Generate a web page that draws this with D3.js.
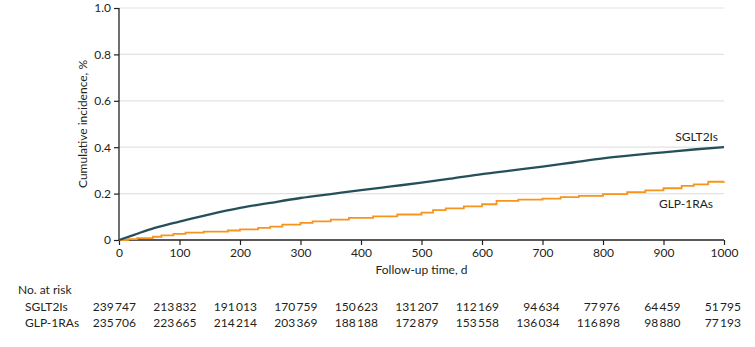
<!DOCTYPE html>
<html>
<head>
<meta charset="utf-8">
<script src="https://cdn.jsdelivr.net/npm/d3@7"></script>
<style>
  body { margin: 0; background: #fff; }
  svg text { font-family: Lato, "Open Sans", sans-serif; fill: #231f20; }
</style>
</head>
<body>
<script>
// follow-up days and cumulative incidence (%)
var sgltDays = [0, 25, 50, 75, 100, 150, 200, 250, 300, 350, 400, 450, 500, 550, 600, 650, 700, 750, 800, 850, 900, 950, 1000];
var sgltInc  = [0, 0.022, 0.045, 0.063, 0.079, 0.11, 0.138, 0.16, 0.181, 0.198, 0.215, 0.231, 0.247, 0.265, 0.284, 0.300, 0.316, 0.334, 0.352, 0.366, 0.378, 0.39, 0.40];

var glpDays = [0, 15, 30, 56, 70, 90, 110, 140, 180, 200, 230, 250, 270, 300, 320, 350, 380, 420, 460, 500, 519, 540, 570, 600, 624, 660, 700, 730, 760, 800, 840, 870, 900, 930, 950, 974, 1000];
var glpInc  = [0, 0.004, 0.008, 0.014, 0.02, 0.026, 0.032, 0.036, 0.041, 0.046, 0.052, 0.058, 0.066, 0.074, 0.080, 0.088, 0.095, 0.102, 0.110, 0.118, 0.129, 0.136, 0.145, 0.154, 0.169, 0.174, 0.178, 0.185, 0.19, 0.198, 0.206, 0.214, 0.223, 0.233, 0.24, 0.251, 0.252];

var xTicks = [0, 100, 200, 300, 400, 500, 600, 700, 800, 900, 1000];
var yTicks = [0, 0.2, 0.4, 0.6, 0.8, 1.0];

var sgltRisk = [239747, 213832, 191013, 170759, 150623, 131207, 112169, 94634, 77976, 64459, 51795];
var glpRisk  = [235706, 223665, 214214, 203369, 188188, 172879, 153558, 136034, 116898, 98880, 77193];

var svg = d3.select("body")
  .append("svg")
  .attr("width", 755)
  .attr("height", 347);

var x = d3.scaleLinear().domain([0, 1000]).range([119, 724]);
var y = d3.scaleLinear().domain([0, 1]).range([240, 8]);

// gridlines
svg.append("g")
  .selectAll("line")
  .data(yTicks.filter(function(d){ return d > 0; }))
  .enter().append("line")
  .attr("x1", x(0)).attr("x2", x(1000))
  .attr("y1", function(d){ return y(d); })
  .attr("y2", function(d){ return y(d); })
  .style("stroke", "#e2e2e2")
  .style("stroke-width", 1.2);

var fmtY = function(d){ return d === 0 ? "0" : d3.format(".1f")(d); };

var yAxis = svg.append("g")
  .attr("transform", "translate(" + x(0) + ",0)")
  .call(d3.axisLeft(y).tickValues(yTicks).tickFormat(fmtY).tickSize(5).tickPadding(3));

var xAxis = svg.append("g")
  .attr("transform", "translate(0," + y(0) + ")")
  .call(d3.axisBottom(x).tickValues(xTicks).tickFormat(d3.format("d")).tickSize(5).tickPadding(3));

[yAxis, xAxis].forEach(function(a){
  a.select(".domain").style("stroke", "#231f20").style("stroke-width", 1.3);
  a.selectAll(".tick line").style("stroke", "#231f20").style("stroke-width", 1.2);
  a.selectAll("text").style("font-size", "12px").style("fill", "#231f20");
});
// axis lines without end caps
yAxis.select(".domain").attr("d", "M0," + y(1) + "V" + y(0));
xAxis.select(".domain").attr("d", "M" + x(0) + ",0H" + x(1000));

// curves
var line = d3.line()
  .x(function(d){ return x(d[0]); })
  .y(function(d){ return y(d[1]); });

svg.append("path")
  .datum(d3.zip(glpDays, glpInc))
  .attr("d", line.curve(d3.curveStepAfter))
  .style("fill", "none")
  .style("stroke", "#f7941d")
  .style("stroke-width", 1.8);

svg.append("path")
  .datum(d3.zip(sgltDays, sgltInc))
  .attr("d", line.curve(d3.curveMonotoneX))
  .style("fill", "none")
  .style("stroke", "#25505b")
  .style("stroke-width", 2.3);

// series labels
svg.append("text").attr("x", 718).attr("y", 141).attr("text-anchor", "end")
  .style("font-size", "12px").text("SGLT2Is");
svg.append("text").attr("x", 713).attr("y", 208).attr("text-anchor", "end")
  .style("font-size", "12px").text("GLP-1RAs");

// axis titles
svg.append("text")
  .attr("x", (x(0) + x(1000)) / 2).attr("y", 274)
  .attr("text-anchor", "middle")
  .style("font-size", "12px")
  .text("Follow-up time, d");

svg.append("text")
  .attr("transform", "translate(87," + ((y(0) + y(1)) / 2) + ") rotate(-90)")
  .attr("text-anchor", "middle")
  .style("font-size", "12px")
  .text("Cumulative incidence, %");

// number at risk table
var fmtN = function(n){ return d3.format(",")(n).replace(/,/g, "\u2009"); };

svg.append("text").attr("x", 18).attr("y", 294).style("font-size", "12px").text("No. at risk");
svg.append("text").attr("x", 25).attr("y", 311).style("font-size", "12px").text("SGLT2Is");
svg.append("text").attr("x", 25).attr("y", 327).style("font-size", "12px").text("GLP-1RAs");

[[sgltRisk, 311], [glpRisk, 327]].forEach(function(row){
  svg.append("g")
    .selectAll("text")
    .data(row[0])
    .enter().append("text")
    .attr("x", function(d, i){ return x(xTicks[i]) + 17; })
    .attr("y", row[1])
    .attr("text-anchor", "end")
    .style("font-size", "12px")
    .text(fmtN);
});
</script>
</body>
</html>
